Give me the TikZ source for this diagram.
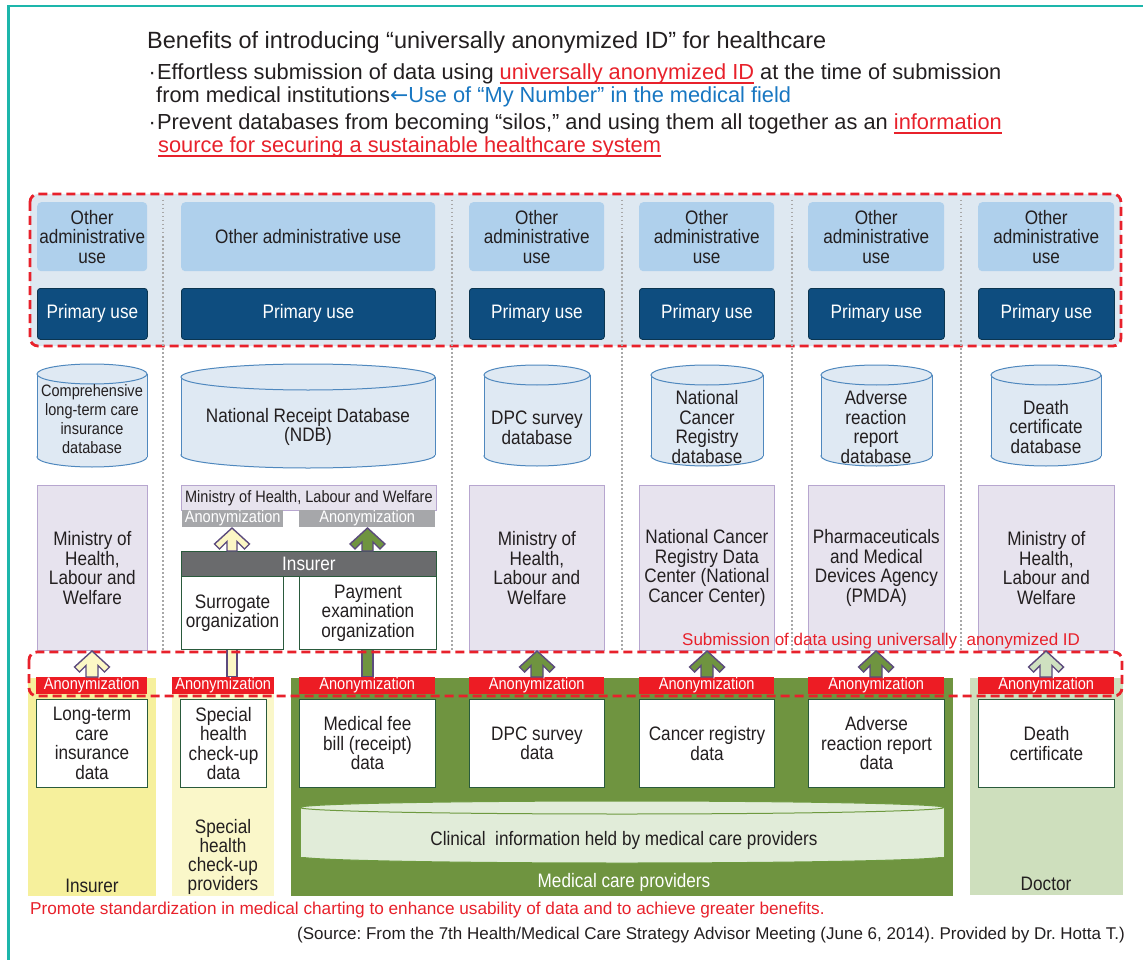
\documentclass[tikz,border=0pt]{standalone}
\usepackage{fontspec}
\setmainfont{Liberation Sans}
\newfontfamily\cnd[FakeStretch=0.88]{Liberation Sans}
\newfontfamily\arrfont{DejaVu Sans}
\frenchspacing
\definecolor{txt}{HTML}{231F20}
\definecolor{frameteal}{HTML}{1DB6AB}
\definecolor{dred}{HTML}{E8212B}
\definecolor{anred}{HTML}{ED1C24}
\definecolor{topfill}{HTML}{DEE8F1}
\definecolor{admblue}{HTML}{AFD0EC}
\definecolor{primblue}{HTML}{0E4D7F}
\definecolor{primedge}{HTML}{0B3550}
\definecolor{cylfill}{HTML}{DFE9F3}
\definecolor{cyldraw}{HTML}{4F88BE}
\definecolor{lav}{HTML}{E7E3EE}
\definecolor{lavedge}{HTML}{B7A6CF}
\definecolor{angrey}{HTML}{A6A7AA}
\definecolor{insgrey}{HTML}{6A6B6D}
\definecolor{dgreen}{HTML}{2A5A3C}
\definecolor{yelA}{HTML}{F6F09C}
\definecolor{yelB}{HTML}{FAF7C9}
\definecolor{medgreen}{HTML}{6F9440}
\definecolor{docgreen}{HTML}{CEDFBD}
\definecolor{arrpurple}{HTML}{5C4B7D}
\definecolor{arryel}{HTML}{FCF7C5}
\definecolor{arrlgreen}{HTML}{CFE1C0}
\definecolor{clinfill}{HTML}{E1ECD9}
\definecolor{clindraw}{HTML}{6E9A40}
\definecolor{ublue}{HTML}{1877C2}
\definecolor{dotgrey}{HTML}{A8A8A8}
\newcommand\boxfont{\cnd\fontsize{19.5}{19.5}\selectfont}
\newcommand\smallbox{\cnd\fontsize{16.5}{19}\selectfont}
\newcommand\anfont{\cnd\fontsize{16.6}{16.6}\selectfont}
\newcommand\redul[1]{\setbox0\hbox{#1}\rlap{\rule[-4.2pt]{\wd0}{1.8pt}}\box0}
\newcommand\bx[7][]{\node[#1, anchor=north west, inner sep=0pt, minimum width={(#5-#3)*1pt}, minimum height={(#6-#4)*1pt}] (#2) at (#3,#4) {#7};}
\newcommand\dbcyl[7]{%
 \path[fill=#1, draw=#2, line width=1pt] ({(#3+#5)/2},{#6-#7}) ellipse [x radius={(#5-#3)/2*1pt}, y radius={#7*1pt}];
 \fill[#1] (#3,{#4+#7}) rectangle (#5,{#6-#7});
 \draw[#2, line width=1pt] (#3,{#4+#7}) -- (#3,{#6-#7}) (#5,{#4+#7}) -- (#5,{#6-#7});
 \path[fill=#1, draw=#2, line width=1pt] ({(#3+#5)/2},{#4+#7}) ellipse [x radius={(#5-#3)/2*1pt}, y radius={#7*1pt}];
}
\newcommand\uparr[5]{%
 \draw[arrowshape, fill=#1] (#2,#3) -- ({#2+17.5},{#3+16}) -- ({#2+12.5},{#3+21}) -- ({#2+#5},{#3+21-(12.5-#5)}) -- ({#2+#5},#4) -- ({#2-#5},#4) -- ({#2-#5},{#3+21-(12.5-#5)}) -- ({#2-12.5},{#3+21}) -- ({#2-17.5},{#3+16}) -- cycle;
}
\tikzset{
 adm/.style={fill=admblue, rounded corners=4pt, text=txt, align=center, font=\boxfont},
 prim/.style={fill=primblue, draw=primedge, line width=0.8pt, rounded corners=3pt, text=white, font=\boxfont},
 mini/.style={fill=lav, draw=lavedge, line width=0.8pt, align=center, font=\boxfont, text=txt},
 anonr/.style={fill=anred, text=white, font=\anfont},
 anong/.style={fill=angrey, text=white, font=\anfont},
 insbar/.style={fill=insgrey, draw=dgreen, line width=0.8pt, text=white, font=\boxfont},
 datab/.style={fill=white, draw=dgreen, line width=1pt, align=center, font=\boxfont, text=txt},
 lbl/.style={align=center, font=\boxfont, text=txt, inner sep=0pt},
 arrowshape/.style={draw=arrpurple, line width=1.4pt, line join=miter},
 dashedred/.style={draw=dred, line width=2.8pt, dash pattern=on 9pt off 5pt, rounded corners=8pt},
 dotline/.style={draw=dotgrey, line width=1.2pt, dash pattern=on 1.5pt off 2.5pt},
}
\begin{document}
\begin{tikzpicture}[x=1pt,y=-1pt]
\fill[white] (0,0) rectangle (1143,960);
\useasboundingbox (0,0) rectangle (1143,960);
\draw[frameteal, line width=2.5pt] (8.5,965) -- (8.5,5.8) -- (1150,5.8);
% heading
\node[anchor=base west, inner sep=0pt, text=txt, font=\fontsize{23.5}{28}\selectfont] (title) at (147,49) {Benefits of introducing “universally anonymized ID” for healthcare};
\node[anchor=base west, inner sep=0pt, text=txt, font=\fontsize{21.8}{26}\selectfont] (l1) at (147,80) {\makebox[10pt][c]{·}Effortless submission of data using \textcolor{dred}{\redul{universally anonymized ID}} at the time of submission};
\node[anchor=base west, inner sep=0pt, text=txt, font=\fontsize{21.8}{26}\selectfont] (l2) at (156,103) {from medical institutions\textcolor{ublue}{{\arrfont ←}Use of “My Number” in the medical field}};
\node[anchor=base west, inner sep=0pt, text=txt, font=\fontsize{21.8}{26}\selectfont] (l3) at (147,130) {\makebox[10pt][c]{·}Prevent databases from becoming “silos,” and using them all together as an \textcolor{dred}{\redul{information}}};
\node[anchor=base west, inner sep=0pt, text=dred, font=\fontsize{21.8}{26}\selectfont] (l4) at (158,153) {\redul{source for securing a sustainable healthcare system}};
% top region
\draw[dashedred, fill=topfill] (30,194) rectangle (1121,346);
\foreach \xx in {163,452,622,792,961} \draw[dotline] (\xx,200) -- (\xx,650);
\bx[adm]{adm1}{37}{202}{147}{271}{Other\\administrative\\use}
\bx[adm]{adm2}{181}{202}{435}{271}{Other administrative use}
\bx[adm]{adm3}{469}{202}{604}{271}{Other\\administrative\\use}
\bx[adm]{adm4}{639}{202}{774}{271}{Other\\administrative\\use}
\bx[adm]{adm5}{808}{202}{944}{271}{Other\\administrative\\use}
\bx[adm]{adm6}{978}{202}{1114}{271}{Other\\administrative\\use}
\bx[prim]{pri1}{37}{288}{147}{339}{Primary use}
\bx[prim]{pri2}{181}{288}{435}{339}{Primary use}
\bx[prim]{pri3}{469}{288}{604}{339}{Primary use}
\bx[prim]{pri4}{639}{288}{774}{339}{Primary use}
\bx[prim]{pri5}{808}{288}{944}{339}{Primary use}
\bx[prim]{pri6}{978}{288}{1114}{339}{Primary use}
% databases
\dbcyl{cylfill}{cyldraw}{37}{364}{147}{467}{10}
\node[lbl, font=\smallbox] (db1) at (92,419) {Comprehensive\\long-term care\\insurance\\database};
\dbcyl{cylfill}{cyldraw}{181}{364}{435}{468}{13}
\node[lbl] (db2) at (308,427) {National Receipt Database\\(NDB)};
\dbcyl{cylfill}{cyldraw}{484}{365}{590}{466}{10}
\node[lbl] (db3) at (537,428) {DPC survey\\database};
\dbcyl{cylfill}{cyldraw}{651}{365}{763}{466}{10}
\node[lbl] (db4) at (707,427) {National\\Cancer\\Registry\\database};
\dbcyl{cylfill}{cyldraw}{821}{365}{932}{466}{10}
\node[lbl] (db5) at (876,427) {Adverse\\reaction\\report\\database};
\dbcyl{cylfill}{cyldraw}{991}{365}{1101}{466}{10}
\node[lbl] (db6) at (1046,427) {Death\\certificate\\database};
% ministries
\bx[mini]{min1}{37}{485}{147}{650}{Ministry of\\Health,\\Labour and\\Welfare}
\bx[mini, font=\smallbox]{min2}{181}{485}{436}{510}{Ministry of Health, Labour and Welfare}
\bx[anong]{ag1}{182}{510}{283}{527}{Anonymization}
\bx[anong]{ag2}{299}{510}{435}{527}{Anonymization}
\draw[arrowshape, fill=arryel] (227,649) rectangle (237,677);
\draw[arrowshape, fill=medgreen] (362,649) rectangle (373,677);
\bx[insbar]{ins}{181}{551}{436}{576}{Insurer}
\bx[datab]{sur}{181}{576}{283}{649}{Surrogate\\organization}
\bx[datab]{pay}{299}{576}{436}{649}{Payment\\examination\\organization}
\bx[mini]{min3}{469}{485}{604}{650}{Ministry of\\Health,\\Labour and\\Welfare}
\bx[mini]{min4}{639}{485}{774}{650}{National Cancer\\Registry Data\\Center (National\\Cancer Center)}
\bx[mini]{min5}{808}{485}{944}{650}{Pharmaceuticals\\and Medical\\Devices Agency\\(PMDA)}
\bx[mini]{min6}{978}{485}{1114}{650}{Ministry of\\Health,\\Labour and\\Welfare}
\uparr{arryel}{232}{528}{551}{5}
\uparr{medgreen}{367.5}{528}{551}{5.5}
\node[anchor=base west, inner sep=0pt, text=dred, font=\fontsize{17}{20}\selectfont] (subm) at (682,645) {Submission of data using universally\ \ anonymized ID};
% bottom backgrounds
\bx[fill=yelA]{bg1}{28}{678}{156}{896}{}
\bx[fill=yelB]{bg2}{172}{678}{274}{896}{}
\bx[fill=medgreen]{bg3}{291}{678}{953}{896}{}
\bx[fill=docgreen]{bg4}{970}{678}{1123}{895}{}
\bx[anonr]{ar1}{36}{677}{147}{694}{Anonymization}
\bx[anonr]{ar2}{172}{677}{274}{694}{Anonymization}
\bx[anonr]{ar3}{299}{677}{435}{694}{Anonymization}
\bx[anonr]{ar4}{469}{677}{604}{694}{Anonymization}
\bx[anonr]{ar5}{639}{677}{774}{694}{Anonymization}
\bx[anonr]{ar6}{808}{677}{944}{694}{Anonymization}
\bx[anonr]{ar7}{978}{677}{1114}{694}{Anonymization}
\bx[datab]{d1}{36}{699}{147}{787}{Long-term\\care\\insurance\\data}
\bx[datab]{d2}{180}{699}{266}{787}{Special\\health\\check-up\\data}
\bx[datab]{d3}{299}{699}{435}{787}{Medical fee\\bill (receipt)\\data}
\bx[datab]{d4}{469}{699}{604}{787}{DPC survey\\data}
\bx[datab]{d5}{639}{699}{774}{787}{Cancer registry\\data}
\bx[datab]{d6}{808}{699}{944}{787}{Adverse\\reaction report\\data}
\bx[datab]{d7}{978}{699}{1114}{787}{Death\\certificate}
\dbcyl{clinfill}{clindraw}{300}{801}{944}{863}{6.5}
\node[lbl] (clin) at (624,840) {Clinical\ \ information held by medical care providers};
\node[lbl] (lins) at (92,886) {Insurer};
\node[lbl, font=\cnd\fontsize{19.5}{19}\selectfont] (lspec) at (223,857) {Special\\health\\check-up\\providers};
\node[lbl, text=white] (lmed) at (624,882) {Medical care providers};
\node[lbl] (ldoc) at (1046,884) {Doctor};
% lower dashed
\draw[dashedred] (29,652) rectangle (1122,696);
\uparr{arryel}{92}{651}{677}{6}
\uparr{medgreen}{537}{651}{677}{6}
\uparr{medgreen}{707}{651}{677}{6}
\uparr{medgreen}{876}{651}{677}{6}
\uparr{arrlgreen}{1046}{651}{677}{6}
% notes
\node[anchor=base west, inner sep=0pt, text=dred, font=\fontsize{17.2}{20}\selectfont] (note) at (30,914) {Promote standardization in medical charting to enhance usability of data and to achieve greater benefits.};
\node[anchor=base east, inner sep=0pt, text=txt, font=\fontsize{17}{20}\selectfont] (src) at (1125,939) {(Source: From the 7th Health/Medical Care Strategy Advisor Meeting (June 6, 2014). Provided by Dr. Hotta T.)};
\end{tikzpicture}
\end{document}
